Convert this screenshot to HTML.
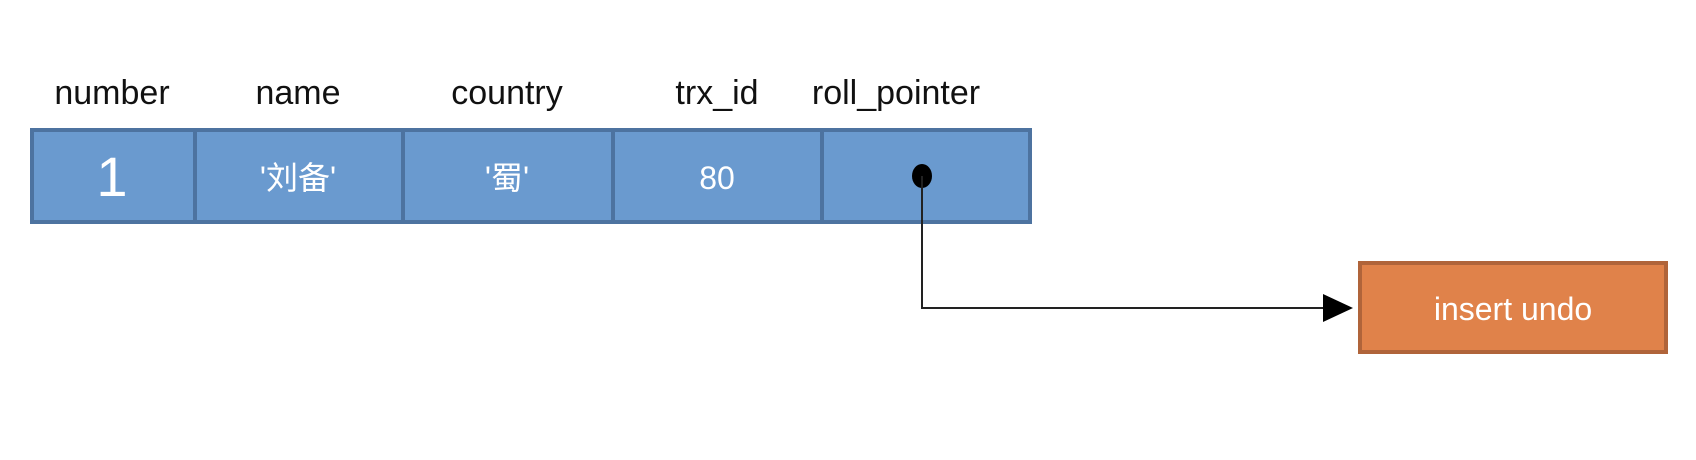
<!DOCTYPE html>
<html><head><meta charset="utf-8"><style>
html,body{margin:0;padding:0;background:#fff;width:1696px;height:460px;overflow:hidden}
svg{display:block}
text{font-family:"Liberation Sans","Noto Sans CJK SC",sans-serif}
</style></head><body>
<svg width="1696" height="460" viewBox="0 0 1696 460">
<g font-size="34" fill="#111" text-anchor="middle">
<text x="112" y="104">number</text>
<text x="298" y="104">name</text>
<text x="507" y="104">country</text>
<text x="717" y="104">trx_id</text>
<text x="896" y="104">roll_pointer</text>
</g>
<g>
<rect x="32" y="130" width="998" height="92" fill="#6a9acf" stroke="#4d73a0" stroke-width="4"/>
<g stroke="#4d73a0" stroke-width="4">
<line x1="195" y1="130" x2="195" y2="222"/><line x1="403" y1="130" x2="403" y2="222"/>
<line x1="613" y1="130" x2="613" y2="222"/><line x1="822" y1="130" x2="822" y2="222"/>
</g>
<g fill="#fff" text-anchor="middle">
<text x="112" y="196" font-size="56">1</text>
<text x="298" y="189" font-size="32">'刘备'</text>
<text x="507" y="189" font-size="32">'蜀'</text>
<text x="717" y="189" font-size="32">80</text>
</g>
<ellipse cx="922" cy="176" rx="10" ry="12" fill="#000"/>
</g>
<polyline points="922,176 922,308 1325,308" fill="none" stroke="#222" stroke-width="2"/>
<path d="M1323,294 L1353,308 L1323,322 Z" fill="#000"/>
<rect x="1360" y="263" width="306" height="89" fill="#e0824a" stroke="#b0643a" stroke-width="4"/>
<text x="1513" y="320" font-size="32" fill="#fff" text-anchor="middle">insert undo</text>
</svg>
</body></html>
